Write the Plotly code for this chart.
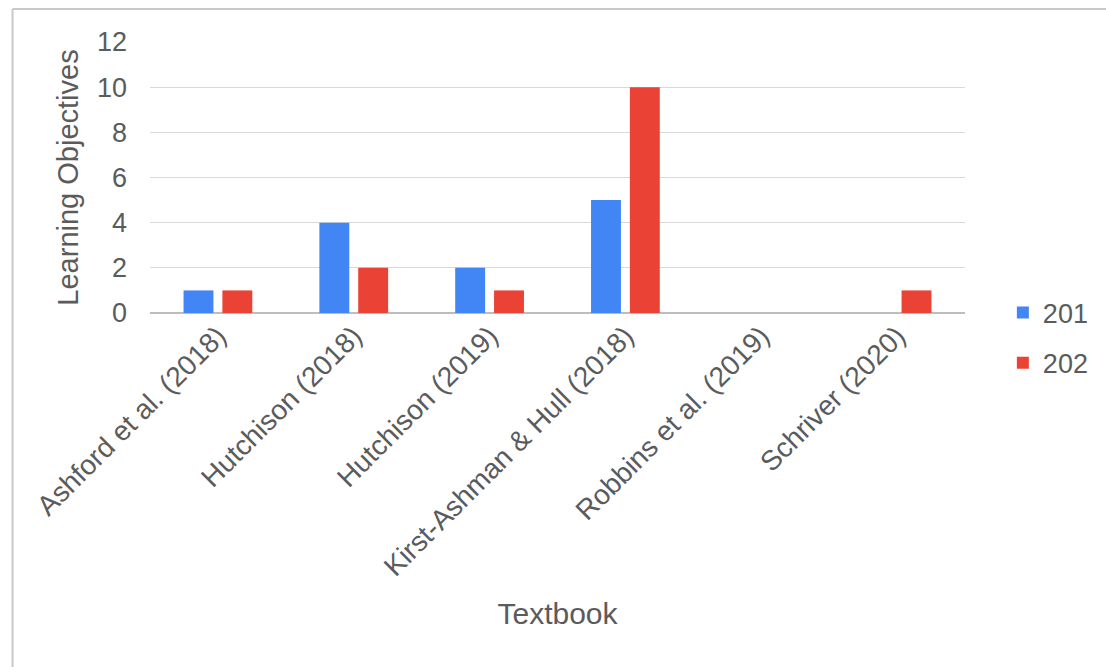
import plotly.graph_objects as go

categories = ["Ashford et al. (2018)", "Hutchison (2018)", "Hutchison (2019)",
              "Kirst-Ashman & Hull (2018)", "Robbins et al. (2019)", "Schriver (2020)"]
series_201 = [1, 4, 2, 5, 0, 0]
series_202 = [1, 2, 1, 10, 0, 1]
y_ticks = [0, 2, 4, 6, 8, 10, 12]

W, H = 1106, 667
L, R, T, B = 150, 968, 42, 313
text_color = "#5b5b5b"
font_family = "Liberation Sans, Arial, sans-serif"

fig = go.Figure()
fig.add_trace(go.Bar(x=categories, y=series_201, name="201", marker_color="#4285F4",
                     marker_line_width=0, legendgroup="a"))
fig.add_trace(go.Bar(x=categories, y=series_202, name="202", marker_color="#EA4335",
                     marker_line_width=0, legendgroup="b"))

def px_x(p):
    return (p - L) / (R - L)

def px_y(p):
    return (B - p) / (B - T)

fig.update_layout(
    width=W, height=H,
    margin=dict(l=L, r=W - R, t=T, b=H - B, pad=0),
    paper_bgcolor="white", plot_bgcolor="white",
    barmode="group", bargap=0.428, bargroupgap=0.23,
    font=dict(family=font_family, color=text_color, size=26),
    showlegend=True,
    legend=dict(x=px_x(1006), y=px_y(338), xanchor="left", yanchor="middle",
                font=dict(size=27, color=text_color), tracegroupgap=12,
                itemwidth=30, bgcolor="rgba(0,0,0,0)"),
    xaxis=dict(tickangle=-45, showgrid=False, showline=False, ticks="",
               tickfont=dict(size=28, color=text_color),
               title=dict(text="Textbook", font=dict(size=30, color=text_color), standoff=21)),
    yaxis=dict(range=[0, 12], tickvals=y_ticks, showgrid=True, gridcolor="#d9d9d9",
               gridwidth=1, zeroline=True, zerolinecolor="#bdbdbd", zerolinewidth=1.5,
               showline=False, ticks="", ticklabelstandoff=22,
               tickfont=dict(size=27, color=text_color),
               title=dict(text="Learning Objectives", font=dict(size=29, color=text_color), standoff=9)),
    shapes=[
        dict(type="line", xref="paper", yref="paper", x0=px_x(12), x1=px_x(12),
             y0=px_y(9), y1=px_y(H + 5), line=dict(color="#c8c8c8", width=2)),
        dict(type="line", xref="paper", yref="paper", x0=px_x(12), x1=px_x(W + 5),
             y0=px_y(9), y1=px_y(9), line=dict(color="#c8c8c8", width=2)),
    ],
)

fig.write_html("out.html")
